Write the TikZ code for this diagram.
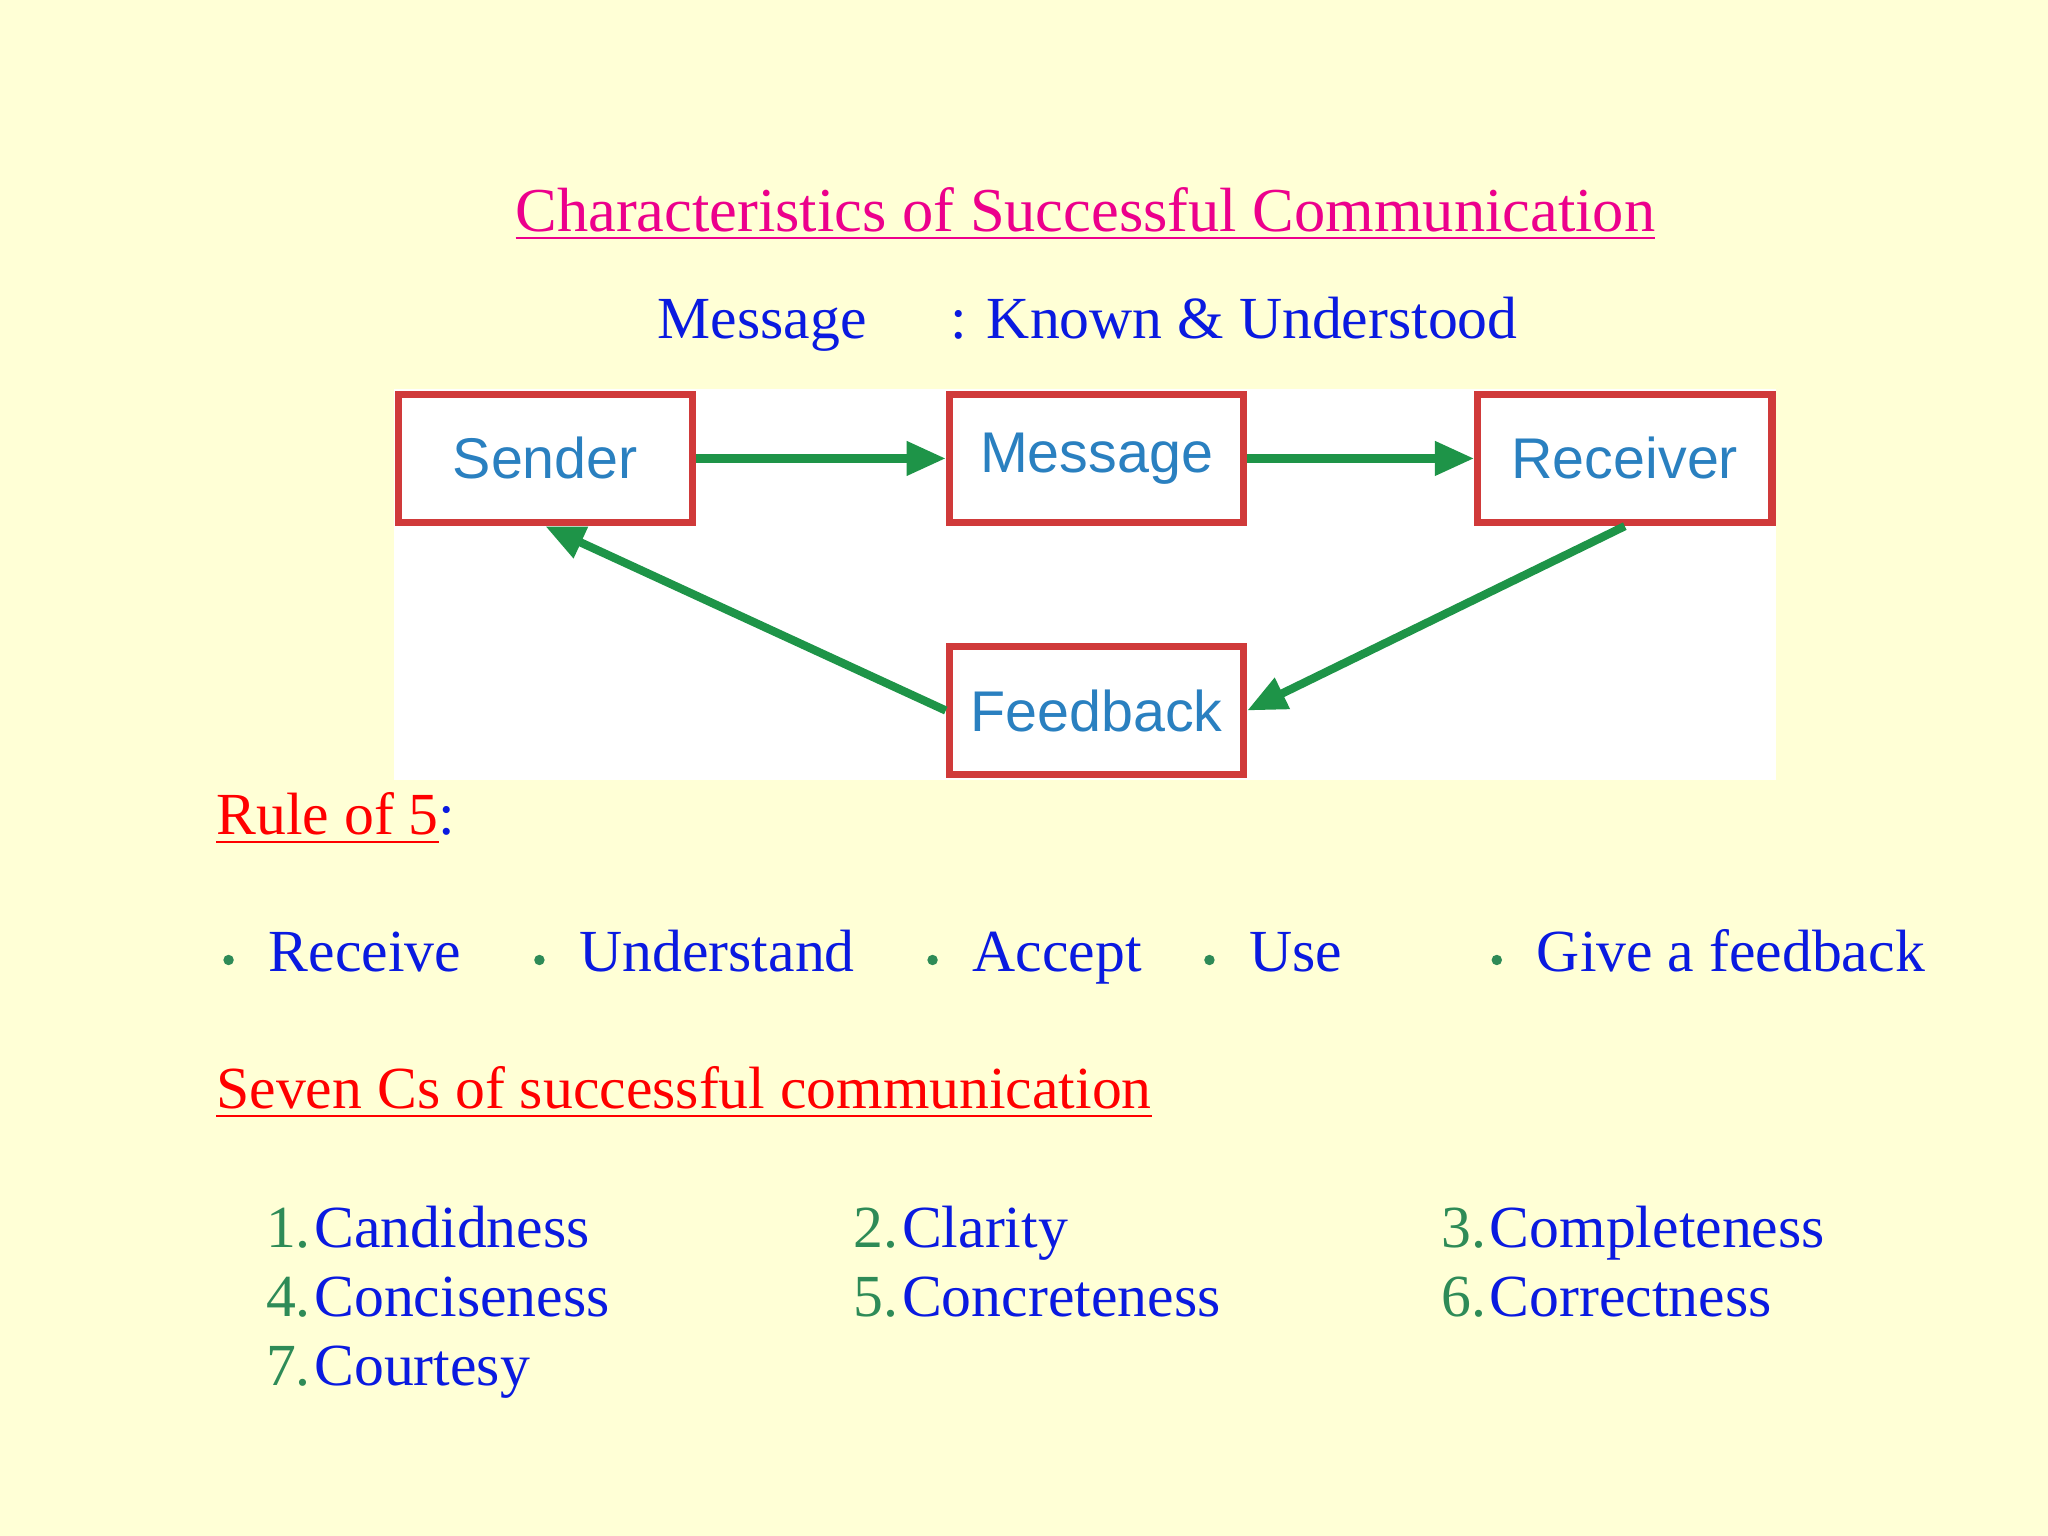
\documentclass[tikz,border=0pt]{standalone}
\usepackage{fontspec}
\setmainfont{Liberation Serif}
\newfontfamily\boxfont{Liberation Sans}
\usetikzlibrary{arrows.meta}
\definecolor{bg}{HTML}{FFFFD6}
\definecolor{tblue}{HTML}{0A1AE0}
\definecolor{tgreen}{HTML}{2E8B57}
\definecolor{bxblue}{HTML}{2A80C0}
\definecolor{bxred}{HTML}{D03A3A}
\definecolor{agreen}{HTML}{1E9448}
\begin{document}
\begin{tikzpicture}[x=0.01cm,y=-0.01cm,
 box/.style={draw=bxred,line width=1.6pt,fill=white,minimum width=2.25cm,minimum height=0.98cm,font=\boxfont\fontsize{12.5}{14}\selectfont,text=bxblue},
 arr/.style={draw=agreen,line width=1.8pt,-{Triangle[length=0.3cm,width=0.25cm]}},
 txt/.style={anchor=base west,inner sep=0pt,text=tblue,font=\fontsize{13}{15}\selectfont},
 dot/.style={circle,fill=tgreen,inner sep=0pt,minimum size=0.08cm},
 num/.style={anchor=base west,inner sep=0pt,font=\fontsize{13}{15}\selectfont}]
\fill[bg] (0,0) rectangle (1568,1176);
\useasboundingbox (0,0) rectangle (1568,1176);
\node[inner sep=0pt,text=magenta,font=\fontsize{13.6}{16}\selectfont,anchor=base] (title) at (831,177) {\underbar{\textcolor{magenta}{Characteristics of Successful Communication}}};
\node[txt] (m1) at (503,259) {Message};
\node[txt] (m2) at (727,259) {: Known \& Understood};
\fill[white] (302,298) rectangle (1360,597);
\node[box] (s) at (417.5,351) {Sender};
\node[box] (m) at (839.5,351) {Message};
\node[box] (r) at (1244,351) {Receiver};
\node[box] (f) at (839.5,544) {Feedback};
\draw[arr] (s.east) -- (m.west);
\draw[arr] (m.east) -- (r.west);
\draw[arr] (r.south) -- (f.east);
\draw[arr] (f.west) -- (s.south);
\node[txt,text=red] (rule) at (165,639) {\underline{Rule of 5}\textcolor{tblue}{:}};
\foreach \x/\t/\n in {175/Receive/a,413/Understand/b,714/Accept/c,926/Use/d,1146/Give a feedback/e}{
 \node[dot] (d\n) at (\x,735) {};
 \node[txt] (t\n) at (\x+30,744) {\t};
}
\node[txt,text=red] (seven) at (165,849) {\underline{Seven Cs of successful communication}};
\foreach \x/\y/\k/\t in {203/955/1/Candidness,653/955/2/Clarity,1103/955/3/Completeness,203/1008/4/Conciseness,653/1008/5/Concreteness,1103/1008/6/Correctness,203/1061/7/Courtesy}{
 \node[num,text=tgreen] (n\k) at (\x,\y) {\k.};
 \node[txt] (c\k) at (\x+37,\y) {\t};
}
\end{tikzpicture}
\end{document}
